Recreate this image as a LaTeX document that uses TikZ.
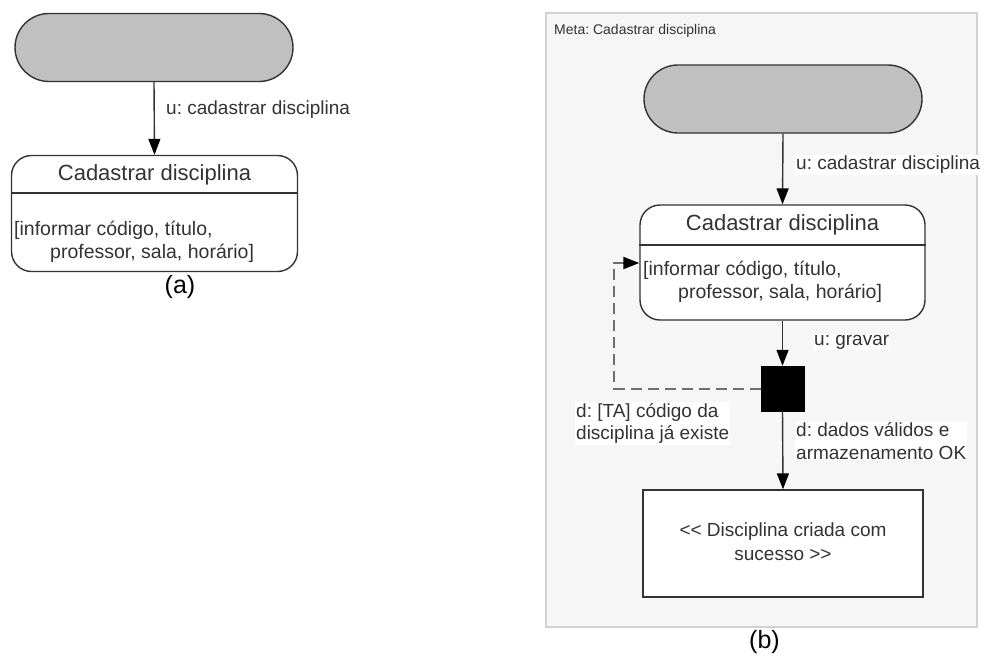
\documentclass[tikz,border=0pt]{standalone}
\usepackage{fontspec}
\setmainfont{Liberation Sans}
\usetikzlibrary{arrows.meta}
\definecolor{ink}{HTML}{333333}
\definecolor{pillgray}{HTML}{C0C0C0}
\definecolor{panelfill}{HTML}{F6F6F6}
\definecolor{panelline}{HTML}{D2D2D2}
\definecolor{dashgray}{HTML}{6E6E6E}
\frenchspacing
\begin{document}
\begin{tikzpicture}[x=1pt,y=-1pt,
  pill/.style={draw=ink, fill=pillgray, line width=1.4pt, rounded corners=34pt,
    inner sep=0pt, minimum width=278pt, minimum height=68pt},
  statebox/.style={draw=ink, fill=white, line width=1.4pt, rounded corners=20pt,
    inner sep=0pt, minimum width=286pt, minimum height=116pt},
  plainbox/.style={draw=ink, fill=white, line width=1.4pt, inner sep=0pt},
  junction/.style={draw=black, fill=black, inner sep=0pt, minimum width=43pt, minimum height=45pt},
  flow/.style={draw=ink, line width=1.4pt, -{Triangle[length=16pt,width=12pt,color=black]}},
  loopback/.style={draw=dashgray, line width=2pt, dash pattern=on 11pt off 6pt,
    -{Triangle[length=16pt,width=12pt,color=black]}},
  titletext/.style={font=\fontsize{22}{26}\selectfont, text=ink, inner sep=0pt},
  bodytext/.style={font=\fontsize{19.5}{23}\selectfont, text=ink, inner sep=0pt},
  lbl/.style={font=\fontsize{19}{22.5}\selectfont, text=ink, inner sep=1pt, align=left},
  lblw/.style={lbl, fill=white},
  caption/.style={font=\fontsize{25}{28}\selectfont, text=black, inner sep=0pt}]
\useasboundingbox (0,0) rectangle (985,657);

% ---------- (a) ----------
\node[pill] (pa) at (154,47.5) {};
\node[statebox] (sa) at (154.5,213.5) {};
\draw[ink, line width=1.4pt] (sa.west |- 0,193) -- (sa.east |- 0,193);
\node[titletext] (ta) at (154.5,175) {Cadastrar disciplina};
\node[bodytext, anchor=west] (ba1) at (14,230) {[informar código, título,};
\node[bodytext, anchor=west] (ba2) at (50,253) {professor, sala, horário]};
\draw[flow] (pa.south) -- (sa.north);
\node[lbl, anchor=west] (la) at (165,110) {u: cadastrar disciplina};
\node[caption] (capa) at (180,287) {(a)};

% ---------- (b) ----------
\draw[panelline, fill=panelfill, line width=2pt] (546,13) rectangle (977,627);
\node[font=\fontsize{14}{16}\selectfont, text=ink, anchor=west, inner sep=0pt] (meta) at (554,31) {Meta: Cadastrar disciplina};

\node[pill] (pb) at (783,99) {};
\node[statebox, minimum width=285pt, minimum height=115pt] (sb) at (782.5,262.5) {};
\draw[ink, line width=1.4pt] (sb.west |- 0,245) -- (sb.east |- 0,245);
\node[titletext] (tb) at (782.5,225) {Cadastrar disciplina};
\node[bodytext, anchor=west] (bb1) at (643,270) {[informar código, título,};
\node[bodytext, anchor=west] (bb2) at (678,293) {professor, sala, horário]};

\node[junction] (jb) at (782.5,388.5) {};
\node[plainbox, minimum width=280pt, minimum height=107pt] (fb) at (783,543.5) {};
\node[bodytext, align=center, font=\fontsize{19}{24}\selectfont] (fbt) at (783,542) {<{}< Disciplina criada com\\ sucesso >{}>};

\draw[flow] (pb.south) -- (sb.north);
\draw[flow] (sb.south) -- (jb.north);
\draw[flow] (jb.south) -- (fb.north);
\coordinate (lp) at (614,263);
\draw[loopback] (jb.west) -| (lp) -- (sb.west |- lp);

\node[lblw, anchor=west] (lb1) at (795,165) {u: cadastrar disciplina};
\node[lblw, anchor=west] (lb2) at (813,342) {u: gravar};
\node[lblw, anchor=west] (lb3) at (575,423.5) {d: [TA] código da\\disciplina já existe};
\node[lblw, anchor=west] (lb4) at (795,441) {d: dados válidos e\\armazenamento OK};
\node[caption] (capb) at (764.5,642) {(b)};
\end{tikzpicture}
\end{document}
